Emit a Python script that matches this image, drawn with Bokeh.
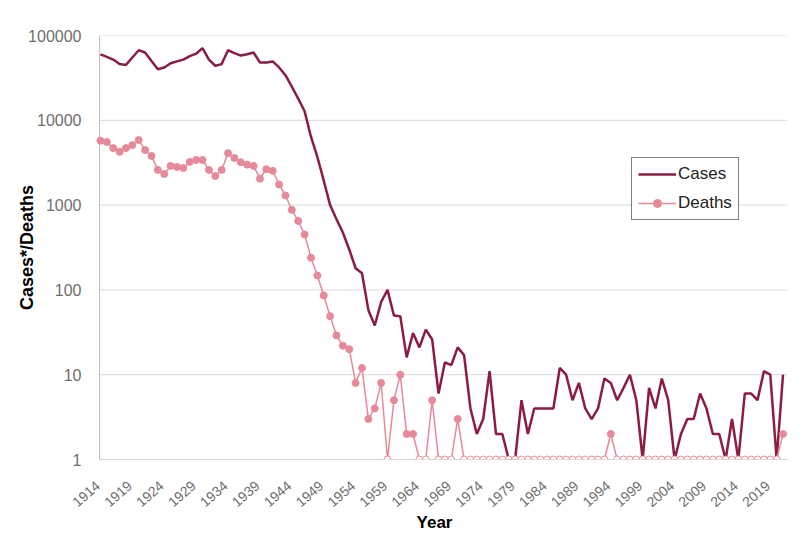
import math
from bokeh.plotting import figure
from bokeh.models import (FixedTicker, Legend, LegendItem, ColumnDataSource,
                          Range1d, CustomJSTickFormatter, LinearAxis)
from bokeh.embed import file_html
from bokeh.resources import INLINE

years = list(range(1914, 2022))

cases = [60000, 56000, 52000, 46000, 45000, 55000, 67000, 63000, 50000, 40000,
         42000, 47000, 49500, 52000, 57000, 61000, 71000, 52000, 44000, 46000,
         67000, 62000, 58000, 60000, 63000, 48000, 48000, 49500, 42000, 34000,
         25000, 18000, 12800, 6400, 3700, 1950, 1000, 680, 475, 300,
         180, 157, 58, 38, 72, 100, 50, 49, 16, 31,
         21, 34, 26, 6, 14, 13, 21, 17, 4, 2,
         3, 11, 2, 2, 1, 1, 5, 2, 4, 4,
         4, 4, 12, 10, 5, 8, 4, 3, 4, 9,
         8, 5, 7, 10, 5, 1, 7, 4, 9, 5,
         1, 2, 3, 3, 6, 4, 2, 2, 1, 3,
         1, 6, 6, 5, 11, 10, 1, 10]

deaths = [5750, 5550, 4700, 4250, 4700, 5100, 5850, 4450, 3800, 2600,
          2330, 2900, 2820, 2740, 3230, 3400, 3400, 2600, 2200, 2600,
          4100, 3600, 3200, 3000, 2900, 2050, 2650, 2540, 1750, 1300,
          880, 650, 450, 240, 148, 86, 49, 29, 22, 20,
          8, 12, 3, 4, 8, 0, 5, 10, 2, 2,
          0, 0, 5, 0, 0, 0, 3, 0, 0, 0,
          0, 0, 0, 0, 0, 0, 0, 0, 0, 0,
          0, 0, 0, 0, 0, 0, 0, 0, 0, 0,
          2, 0, 0, 0, 0, 0, 0, 0, 0, 0,
          0, 0, 0, 0, 0, 0, 0, 0, 0, 0,
          0, 0, 0, 0, 0, 0, 0, 2]

x_tick_years = [1914, 1919, 1924, 1929, 1934, 1939, 1944, 1949, 1954, 1959,
                1964, 1969, 1974, 1979, 1984, 1989, 1994, 1999, 2004, 2009,
                2014, 2019]
y_ticks = [1, 10, 100, 1000, 10000, 100000]

CASE_COLOR = "#8c1d3e"
DEATH_COLOR = "#e68a99"
FONT = "Liberation Sans"

# plot-area geometry (years): axis start, end, and a left pad that leaves
# room for the slanted year labels, whose right ends sit on their ticks
AX_START, AX_END, PAD = 1913.85, 2021.7, 2.82
LABEL_SHIFT = 0.4

# zero deaths cannot sit on a log axis: shown at 1 as hollow markers
death_plot = [d if d > 0 else 1 for d in deaths]
death_fill = [DEATH_COLOR if d > 0 else "white" for d in deaths]
dsrc = ColumnDataSource(dict(year=years, val=death_plot, fill=death_fill))

p = figure(width=795, height=534, output_backend="svg", toolbar_location=None,
           y_axis_type="log", x_axis_location=None,
           x_range=Range1d(AX_START - PAD, AX_END), y_range=Range1d(1, 100000),
           min_border_left=81, min_border_right=8, min_border_top=35,
           min_border_bottom=73)
p.outline_line_color = None
p.background_fill_color = "white"
p.border_fill_color = "white"
p.xgrid.visible = False
p.ygrid.visible = False

# gridlines and axis lines starting at the first year
p.segment(x0=[AX_START] * len(y_ticks), x1=[AX_END] * len(y_ticks),
          y0=y_ticks, y1=y_ticks, line_color="#d9d9d9", line_width=1)
p.segment(x0=[AX_START], x1=[AX_END], y0=[1], y1=[1],
          line_color="#bfbfbf", line_width=1)
p.segment(x0=[AX_START], x1=[AX_START], y0=[1], y1=[100000],
          line_color="#bfbfbf", line_width=1)

r_cases = p.line(years, cases, line_color=CASE_COLOR, line_width=2.5)
r_dline = p.line("year", "val", source=dsrc, line_color=DEATH_COLOR, line_width=1.5)
r_dpts = p.scatter("year", "val", source=dsrc, size=7, fill_color="fill",
                   line_color=DEATH_COLOR, line_width=1)

yax = p.yaxis[0]
yax.ticker = FixedTicker(ticks=y_ticks)
yax.formatter = CustomJSTickFormatter(code="return tick.toFixed(0)")
yax.axis_line_color = None
yax.major_label_standoff = 0
yax.axis_label_standoff = -12
yax.major_label_text_font_size = "16px"
yax.axis_label = "Cases*/Deaths"
yax.axis_label_text_font_size = "18px"

# year axis on a slightly shifted range so each slanted label ends at its year
p.extra_x_ranges = {"lab": Range1d(AX_START - PAD + LABEL_SHIFT, AX_END + LABEL_SHIFT)}
xax = LinearAxis(x_range_name="lab", ticker=FixedTicker(ticks=x_tick_years),
                 bounds=(AX_START + 0.05, AX_END + LABEL_SHIFT))
xax.axis_line_color = None
xax.major_label_orientation = 0.72
xax.major_label_standoff = 24
xax.axis_label_standoff = -2
xax.major_label_text_font_size = "14px"
xax.axis_label = "Year"
xax.axis_label_text_font_size = "17px"
p.add_layout(xax, "below")

for ax in (xax, yax):
    ax.major_tick_line_color = None
    ax.minor_tick_line_color = None
    ax.major_tick_out = 0
    ax.major_tick_in = 0
    ax.minor_tick_out = 0
    ax.minor_tick_in = 0
    ax.major_label_text_color = "#6e6e6e"
    ax.major_label_text_font = FONT
    ax.axis_label_text_font = FONT
    ax.axis_label_text_font_style = "bold"
    ax.axis_label_text_color = "black"

legend = Legend(items=[LegendItem(label="Cases", renderers=[r_cases]),
                       LegendItem(label="Deaths", renderers=[r_dline, r_dpts])],
                location=(550, 239))
legend.border_line_color = "black"
legend.border_line_width = 1
legend.background_fill_color = "white"
legend.background_fill_alpha = 1
legend.label_text_font = FONT
legend.label_text_font_size = "17px"
legend.label_text_color = "#222222"
legend.glyph_width = 38
legend.glyph_height = 20
legend.label_height = 20
legend.label_standoff = 2
legend.spacing = 9
legend.padding = 6
legend.margin = 0
p.add_layout(legend)

open("out.html", "w").write(file_html(p, INLINE))
